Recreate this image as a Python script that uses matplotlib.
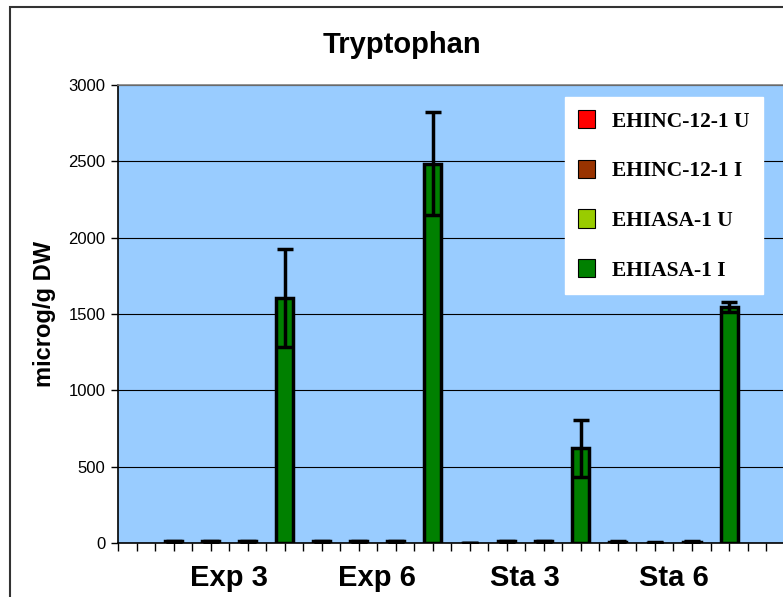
import matplotlib
matplotlib.use("Agg")
import matplotlib.pyplot as plt
from matplotlib.patches import Patch, Rectangle
import numpy as np

groups = ["Exp 3", "Exp 6", "Sta 3", "Sta 6"]
series = ["EHINC-12-1 U", "EHINC-12-1 I", "EHIASA-1 U", "EHIASA-1 I"]
colors = ["#FF0000", "#993300", "#99CC00", "#008000"]
# values[series][group]
values = [
    [10, 10, 2, 8],
    [12, 12, 10, 3],
    [12, 12, 10, 8],
    [1605, 2485, 620, 1545],
]
errors = [
    [4, 4, 1, 4],
    [4, 4, 4, 1],
    [4, 4, 4, 4],
    [318, 335, 185, 32],
]
yticks = [0, 500, 1000, 1500, 2000, 2500, 3000]

W, H = 783, 597
fig = plt.figure(figsize=(W / 100, H / 100), dpi=100)
fig.patch.set_facecolor("white")
ax = fig.add_axes([118 / W, 1 - 543 / H, 1 - 118 / W + 0.002, (543 - 85) / H])
ax.set_facecolor("#99CCFF")

nser = len(series)
for s in range(nser):
    xs = np.arange(len(groups)) * nser + s
    ax.bar(xs, values[s], width=0.46, color=colors[s], edgecolor="black",
           linewidth=2.5, zorder=3)
    ax.errorbar(xs, values[s], yerr=errors[s], fmt="none", ecolor="black",
                elinewidth=2.5, capsize=5.8, capthick=2.5, zorder=4)

ax.set_xlim(-1.5, len(groups) * nser + 0.5)
ax.set_ylim(0, 3000)
ax.set_yticks(yticks)
ax.set_yticklabels([str(v) for v in yticks], fontsize=12, family="Liberation Sans")
ax.yaxis.grid(True, color="black", linewidth=0.8, zorder=1)
ax.set_axisbelow(True)
ax.set_xticks(np.arange(-1.5, len(groups) * nser + 0.5, 0.5))
ax.set_xticklabels([])
ax.tick_params(axis="x", direction="out", length=6, width=1, color="black")
ax.tick_params(axis="y", direction="out", length=5, width=1, color="black", pad=4)
ax.spines["right"].set_visible(False)
ax.spines["top"].set_color("#808080")
ax.spines["top"].set_linewidth(1.2)
ax.spines["left"].set_color("black")
ax.spines["bottom"].set_color("black")
ax.spines["left"].set_linewidth(1.2)
ax.spines["bottom"].set_linewidth(1.2)

for g, name in enumerate(groups):
    ax.text(g * nser + 1.5, -0.077, name, transform=ax.get_xaxis_transform(),
            ha="center", va="center", fontsize=21, fontweight="bold",
            family="Liberation Sans")

ax.set_ylabel("microg/g DW", fontsize=17, fontweight="bold",
              family="Liberation Sans")
ax.yaxis.set_label_coords(-(118 - 56) / (W - 118), 0.5)
fig.text(402 / W, 1 - 45 / H, "Tryptophan", ha="center", va="center",
         fontsize=21, fontweight="bold", family="Liberation Sans")

handles = [Patch(facecolor=c, edgecolor="black", linewidth=0.8) for c in colors]
leg = fig.legend(handles, series, loc="upper left",
                 bbox_to_anchor=(565 / W, 1 - 97 / H),
                 prop={"family": "Liberation Serif", "weight": "bold", "size": 15.5},
                 frameon=True, fancybox=False, framealpha=1, borderpad=0.6,
                 labelspacing=1.3, handlelength=0.8, handleheight=0.95,
                 handletextpad=0.8, borderaxespad=0)
leg.get_frame().set_edgecolor("white")
leg.get_frame().set_facecolor("white")

# outer chart border
fig.add_artist(Rectangle((10 / W, -0.1), 1.2, 1 - 7 / H + 0.1, transform=fig.transFigure,
                         fill=False, edgecolor="#333333", linewidth=1.5))

fig.savefig("out.png", dpi=100)
